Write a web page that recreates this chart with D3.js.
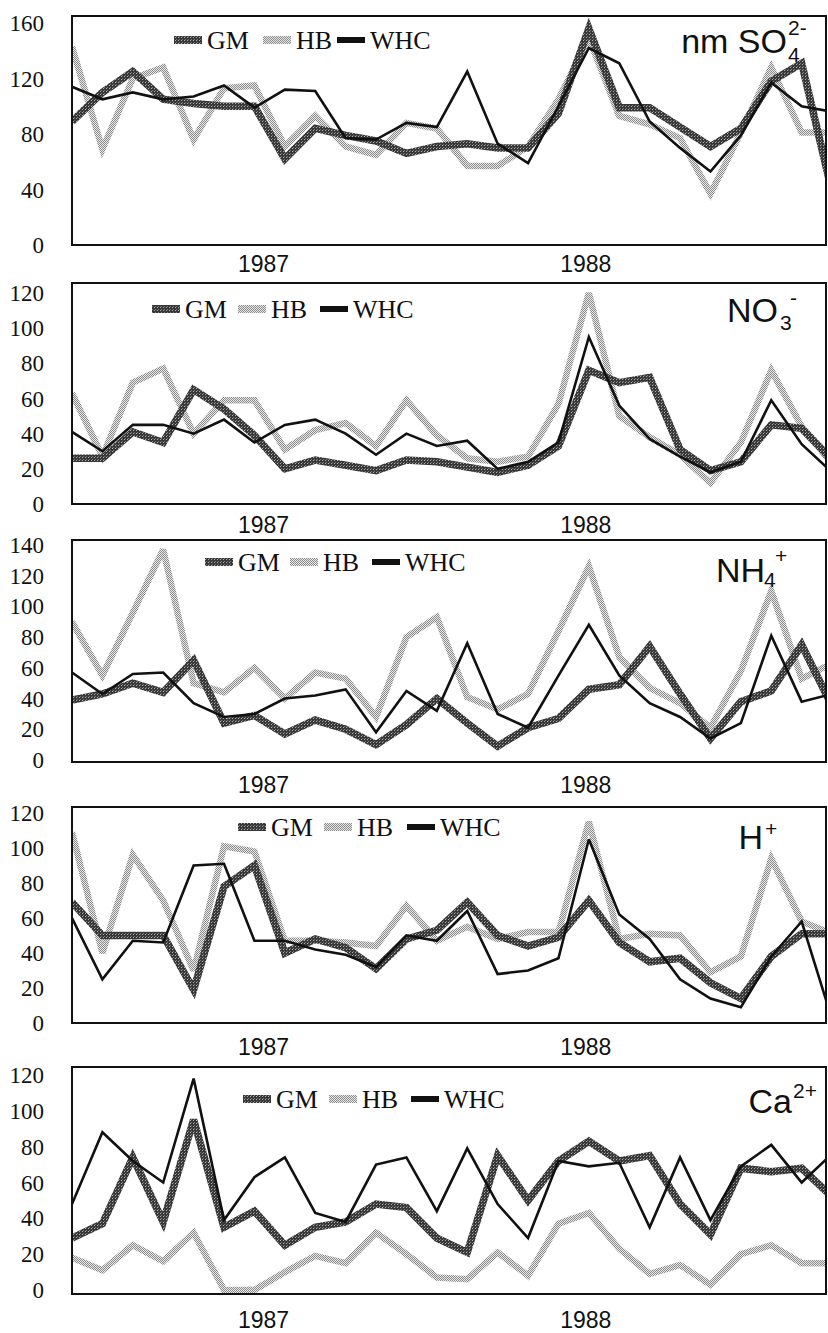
<!DOCTYPE html>
<html><head><meta charset="utf-8">
<script src="https://cdn.jsdelivr.net/npm/d3@7"></script>
<style>body{margin:0;background:#fff}
.tick-label{font-family:"Liberation Serif","Times New Roman",serif;font-size:23px;fill:#111}
.leg{font-family:"Liberation Serif","Times New Roman",serif;font-size:26px;fill:#111}
.sans{font-family:"Liberation Sans",Arial,sans-serif;fill:#111}
</style>
</head><body>
<svg id="chart" width="828" height="1333"></svg>
<script>
// ---------- data ----------
const sampleIndex = d3.range(26);
const seriesNames = ["GM", "HB", "WHC"];
const yearLabels = ["1987", "1988"];
const yearAt = [6.3, 16.9];

const so4_GM  = [89,110,125,105,102,100,100,62,84,79,75,66,71,73,70,70,95,156,99,99,85,71,84,118,131,38];
const so4_HB  = [143,69,120,128,76,113,115,71,93,71,65,88,84,57,57,71,105,149,93,87,77,37,81,128,81,81];
const so4_WHC = [114,105,110,105,107,115,99,112,111,77,76,88,85,125,73,59,100,142,131,89,70,53,79,117,100,96];

const no3_GM  = [26,26,41,35,65,54,39,20,25,22,19,25,24,21,18,22,33,76,69,72,31,19,24,45,43,25];
const no3_HB  = [63,27,69,77,40,59,59,31,42,46,33,59,39,26,24,27,57,120,50,38,28,12,35,76,44,23];
const no3_WHC = [41,30,45,45,40,48,35,45,48,40,28,40,33,36,20,24,35,95,56,37,27,18,24,59,34,18];

const nh4_GM  = [39,43,50,44,65,24,29,17,26,20,10,23,40,24,9,21,27,46,49,74,43,14,38,45,75,35];
const nh4_HB  = [90,55,96,137,50,44,60,40,57,53,28,80,93,41,33,43,84,126,67,47,37,21,58,110,53,63];
const nh4_WHC = [57,43,56,57,37,28,30,40,42,46,18,45,32,76,30,21,55,88,55,37,28,14,24,81,38,43];

const h_GM  = [69,50,50,50,19,78,90,40,48,43,31,48,53,69,50,44,49,70,46,35,37,23,14,38,51,51];
const h_HB  = [109,40,96,70,30,101,98,47,47,46,44,67,47,55,48,52,52,115,48,51,50,29,38,94,58,51];
const h_WHC = [60,25,47,46,90,91,47,47,42,39,32,50,47,64,28,30,37,105,62,48,25,14,9,38,58,2];

const ca_GM  = [29,37,74,38,95,35,44,25,35,38,48,46,29,21,75,50,72,83,72,75,48,31,68,66,68,52];
const ca_HB  = [18,11,25,16,32,0,0,10,19,15,32,20,7,6,21,8,37,43,23,9,14,3,20,25,15,15];
const ca_WHC = [48,88,72,60,118,39,63,74,43,38,70,74,44,79,48,29,72,69,71,35,74,39,69,81,60,76];

const ticks_so4 = [0,40,80,120,160];
const ticks_no3 = [0,20,40,60,80,100,120];
const ticks_nh4 = [0,20,40,60,80,100,120,140];
const ticks_h   = [0,20,40,60,80,100,120];
const ticks_ca  = [0,20,40,60,80,100,120];

const panelData = [
  {main:"nm SO", sub:"4", sup:"2-", GM:so4_GM, HB:so4_HB, WHC:so4_WHC, ticks:ticks_so4, max:160},
  {main:"NO",    sub:"3", sup:"-",  GM:no3_GM, HB:no3_HB, WHC:no3_WHC, ticks:ticks_no3, max:120},
  {main:"NH",    sub:"4", sup:"+",  GM:nh4_GM, HB:nh4_HB, WHC:nh4_WHC, ticks:ticks_nh4, max:140},
  {main:"H",     sub:"",  sup:"+",  GM:h_GM,   HB:h_HB,   WHC:h_WHC,   ticks:ticks_h,   max:120},
  {main:"Ca",    sub:"",  sup:"2+", GM:ca_GM,  HB:ca_HB,  WHC:ca_WHC,  ticks:ticks_ca,  max:120}
];

// ---------- layout ----------
const layout = [
  {top:16,  bottom:245,  y0:245,  yMax:23,   legY:40,   legX:[174,263,337], labEnd:787, labBase:53,   sub:[1,9],  sup:[1,-18], yearY:272},
  {top:283, bottom:504,  y0:504,  yMax:293,  legY:309,  legX:[152,238,320], labEnd:778, labBase:322,  sub:[2,8],  sup:[12,-17], yearY:533},
  {top:540, bottom:762,  y0:760,  yMax:545,  legY:562,  legX:[205,290,372], labEnd:765, labBase:582,  sub:[-1,5], sup:[10,-19], yearY:793},
  {top:807, bottom:1023, y0:1023, yMax:813,  legY:827,  legX:[238,324,407], labEnd:763, labBase:849,  sub:[0,0],  sup:[2,-13], yearY:1055},
  {top:1067,bottom:1294, y0:1290, yMax:1075, legY:1099, legX:[243,329,411], labEnd:792, labBase:1113, sub:[0,0],  sup:[1,-15], yearY:1328}
];
const plotLeft = 72, plotRight = 826;

const svg = d3.select("#chart");
const defs = svg.append("defs");

// textured strokes
const pGM = defs.append("pattern").attr("id","texGM").attr("patternUnits","userSpaceOnUse").attr("width",3).attr("height",3);
pGM.append("rect").attr("width",3).attr("height",3).attr("fill","#383838");
pGM.append("rect").attr("x",1).attr("y",1).attr("width",1).attr("height",1).attr("fill","#b0b0b0");
pGM.append("rect").attr("x",2).attr("y",0).attr("width",1).attr("height",1).attr("fill","#777");
const pHB = defs.append("pattern").attr("id","texHB").attr("patternUnits","userSpaceOnUse").attr("width",2).attr("height",2);
pHB.append("rect").attr("width",2).attr("height",2).attr("fill","#e8e8e8");
pHB.append("rect").attr("width",1).attr("height",1).attr("fill","#8c8c8c");
pHB.append("rect").attr("x",1).attr("y",1).attr("width",1).attr("height",1).attr("fill","#8c8c8c");

const styles = {
  GM:  {stroke:"url(#texGM)", width:7.5},
  HB:  {stroke:"url(#texHB)", width:6.5},
  WHC: {stroke:"#111", width:2.6}
};
const drawOrder = ["HB","GM","WHC"];

const x = d3.scaleLinear().domain([0, 24.8]).range([plotLeft, plotRight]);

panelData.forEach((pd, k) => {
  const L = layout[k];
  const y = d3.scaleLinear().domain([0, pd.max]).range([L.y0, L.yMax]);
  const g = svg.append("g");

  const clipId = "clip" + k;
  defs.append("clipPath").attr("id", clipId).append("rect")
    .attr("x", plotLeft).attr("y", L.top).attr("width", plotRight - plotLeft).attr("height", L.bottom - L.top);

  // y tick labels (from the y scale)
  g.selectAll("text.tick-label").data(pd.ticks).join("text")
    .attr("class","tick-label")
    .attr("x", plotLeft - 28).attr("y", d => y(d)).attr("dy","0.35em")
    .attr("text-anchor","end").text(d3.format("d"));

  // lines
  const line = d3.line().x((d,i) => x(sampleIndex[i])).y(d => y(d)).curve(d3.curveLinear);
  const lg = g.append("g").attr("clip-path", `url(#${clipId})`);
  drawOrder.forEach(name => {
    lg.append("path").datum(pd[name]).attr("d", line)
      .attr("fill","none").attr("stroke", styles[name].stroke)
      .attr("stroke-width", styles[name].width)
      .attr("stroke-linejoin","miter").attr("stroke-miterlimit", 3);
  });

  // frame
  g.append("rect").attr("x", plotLeft).attr("y", L.top)
    .attr("width", plotRight - plotLeft).attr("height", L.bottom - L.top)
    .attr("fill","none").attr("stroke","#111").attr("stroke-width",2);

  // legend
  seriesNames.forEach((name, j) => {
    const sx = L.legX[j];
    g.append("line").attr("x1", sx).attr("x2", sx + 28).attr("y1", L.legY).attr("y2", L.legY)
      .attr("stroke", styles[name].stroke).attr("stroke-width", name === "WHC" ? 6 : 8);
    g.append("text").attr("class","leg").attr("x", sx + 33).attr("y", L.legY + 9).text(name);
  });

  // ion label
  g.append("text").attr("class","sans").attr("x", L.labEnd).attr("y", L.labBase)
    .attr("text-anchor","end").style("font-size","34px").text(pd.main);
  if (pd.sub) g.append("text").attr("class","sans").attr("x", L.labEnd + L.sub[0]).attr("y", L.labBase + L.sub[1])
    .style("font-size","21px").text(pd.sub);
  if (pd.sup) g.append("text").attr("class","sans").attr("x", L.labEnd + L.sup[0]).attr("y", L.labBase + L.sup[1])
    .style("font-size","21px").text(pd.sup);

  // year labels
  yearLabels.forEach((yl, j) => {
    g.append("text").attr("class","sans").attr("x", x(yearAt[j])).attr("y", L.yearY)
      .attr("text-anchor","middle").style("font-size","23px").text(yl);
  });
});
</script>
</body></html>
